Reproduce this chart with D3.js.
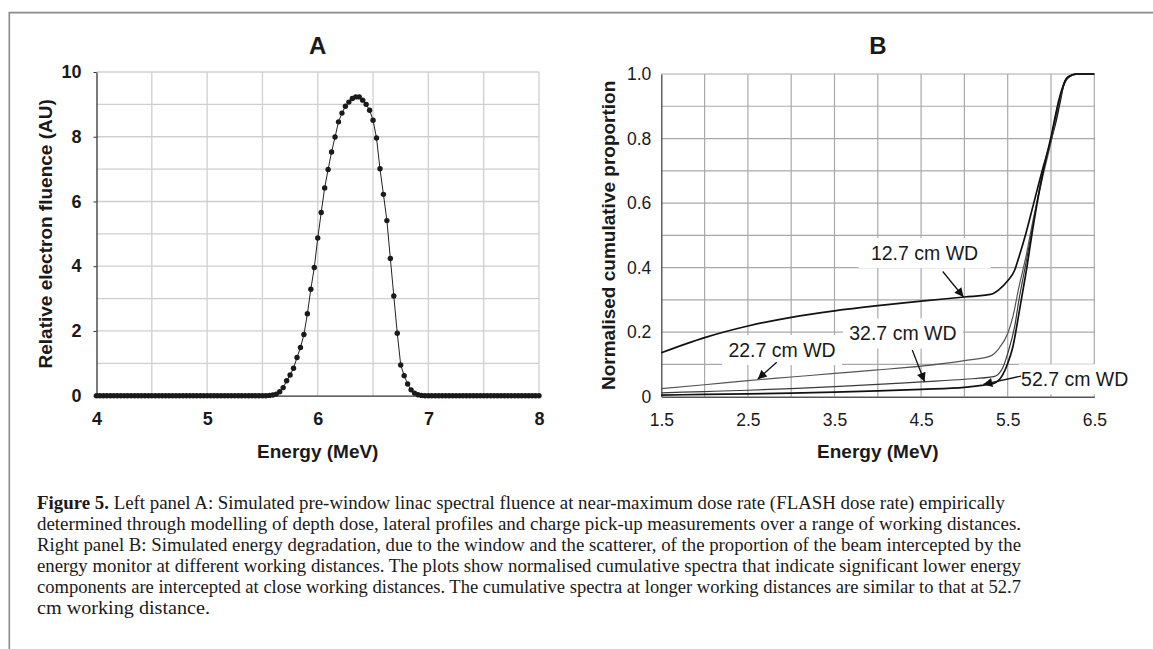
<!DOCTYPE html>
<html>
<head>
<meta charset="utf-8">
<script src="https://cdn.jsdelivr.net/npm/d3@7"></script>
<style>
  body { margin: 0; background: #fff; }
  svg { display: block; }
</style>
</head>
<body>
<svg></svg>
<script>
var w = 1153, h = 649;

// ---- panel A : pre-window spectral fluence ----
var energyA = [
  4, 4.03125, 4.0625, 4.09375, 4.125, 4.15625, 4.1875, 4.21875, 4.25, 4.28125, 4.3125, 4.34375, 4.375, 4.40625, 4.4375, 4.46875,
  4.5, 4.53125, 4.5625, 4.59375, 4.625, 4.65625, 4.6875, 4.71875, 4.75, 4.78125, 4.8125, 4.84375, 4.875, 4.90625, 4.9375, 4.96875,
  5, 5.03125, 5.0625, 5.09375, 5.125, 5.15625, 5.1875, 5.21875, 5.25, 5.28125, 5.3125, 5.34375, 5.375, 5.40625, 5.4375, 5.46875,
  5.5, 5.53125, 5.5625, 5.59375, 5.625, 5.65625, 5.6875, 5.71875, 5.75, 5.78125, 5.8125, 5.84375, 5.875, 5.90625, 5.9375, 5.96875,
  6, 6.03125, 6.0625, 6.09375, 6.125, 6.15625, 6.1875, 6.21875, 6.25, 6.28125, 6.3125, 6.34375, 6.375, 6.40625, 6.4375, 6.46875,
  6.5, 6.53125, 6.5625, 6.59375, 6.625, 6.65625, 6.6875, 6.71875, 6.75, 6.78125, 6.8125, 6.84375, 6.875, 6.90625, 6.9375, 6.96875,
  7, 7.03125, 7.0625, 7.09375, 7.125, 7.15625, 7.1875, 7.21875, 7.25, 7.28125, 7.3125, 7.34375, 7.375, 7.40625, 7.4375, 7.46875,
  7.5, 7.53125, 7.5625, 7.59375, 7.625, 7.65625, 7.6875, 7.71875, 7.75, 7.78125, 7.8125, 7.84375, 7.875, 7.90625, 7.9375, 7.96875,
  8
];
var fluenceA = [
  0, 0, 0, 0, 0, 0, 0, 0, 0, 0, 0, 0, 0, 0, 0, 0,
  0, 0, 0, 0, 0, 0, 0, 0, 0, 0, 0, 0, 0, 0, 0, 0,
  0, 0, 0, 0, 0, 0, 0, 0, 0, 0, 0, 0, 0, 0, 0, 0,
  0, 0, 0.01, 0.02, 0.05, 0.12, 0.25, 0.46, 0.64, 0.85, 1.18, 1.49, 1.89, 2.53, 3.29, 3.96,
  4.87, 5.66, 6.42, 6.99, 7.53, 7.99, 8.46, 8.73, 8.94, 9.07, 9.18, 9.23, 9.23, 9.13, 9.00, 8.82,
  8.51, 7.96, 7.01, 6.22, 5.41, 4.24, 3.08, 1.93, 0.95, 0.62, 0.36, 0.18, 0.08, 0.03, 0.01, 0,
  0, 0, 0, 0, 0, 0, 0, 0, 0, 0, 0, 0, 0, 0, 0, 0,
  0, 0, 0, 0, 0, 0, 0, 0, 0, 0, 0, 0, 0, 0, 0, 0,
  0
];
var xTicksA = [4, 5, 6, 7, 8];
var yTicksA = [0, 2, 4, 6, 8, 10];

// ---- panel B : cumulative spectra at working distances ----
var wdLabels = ["12.7 cm WD", "22.7 cm WD", "32.7 cm WD", "52.7 cm WD"];
var wd127E = [1.5, 2.0, 2.5, 3.0, 3.5, 4.0, 4.5, 5.0, 5.3, 5.4, 5.5, 5.58, 5.63, 5.71, 5.8, 5.9, 6.0, 6.06, 6.1, 6.15, 6.21, 6.3, 6.5];
var wd127P = [0.136, 0.183, 0.219, 0.246, 0.266, 0.282, 0.296, 0.309, 0.317, 0.332, 0.359, 0.392, 0.433, 0.506, 0.599, 0.702, 0.795, 0.857, 0.908, 0.97, 0.993, 1.0, 1.0];
var wd227E = [1.5, 2.0, 2.5, 3.0, 3.5, 4.0, 4.5, 5.0, 5.29, 5.4, 5.5, 5.56, 5.63, 5.71, 5.8, 5.9, 6.0, 6.1, 6.17, 6.25, 6.35, 6.5];
var wd227P = [0.025, 0.037, 0.05, 0.061, 0.072, 0.083, 0.095, 0.112, 0.125, 0.15, 0.196, 0.248, 0.34, 0.433, 0.557, 0.676, 0.789, 0.918, 0.98, 0.996, 1.0, 1.0];
var wd327E = [1.5, 2.0, 2.5, 3.0, 3.5, 4.0, 4.5, 5.0, 5.34, 5.44, 5.5, 5.58, 5.63, 5.71, 5.8, 5.9, 6.0, 6.1, 6.19, 6.3, 6.5];
var wd327P = [0.012, 0.016, 0.02, 0.025, 0.031, 0.038, 0.046, 0.054, 0.062, 0.088, 0.134, 0.217, 0.30, 0.413, 0.547, 0.69, 0.80, 0.924, 0.986, 1.0, 1.0];
var wd527E = [1.5, 2.0, 2.5, 3.0, 3.5, 4.0, 4.5, 5.0, 5.2, 5.34, 5.44, 5.5, 5.56, 5.63, 5.71, 5.8, 5.9, 6.0, 6.1, 6.19, 6.3, 6.5];
var wd527P = [0.005, 0.007, 0.009, 0.011, 0.014, 0.018, 0.023, 0.029, 0.035, 0.041, 0.067, 0.103, 0.155, 0.258, 0.382, 0.537, 0.686, 0.805, 0.929, 0.989, 1.0, 1.0];
var xTicksB = [1.5, 2.5, 3.5, 4.5, 5.5, 6.5];
var yTicksB = [0, 0.2, 0.4, 0.6, 0.8, 1.0];

var captionLines = [
  "determined through modelling of depth dose, lateral profiles and charge pick-up measurements over a range of working distances.",
  "Right panel B: Simulated energy degradation, due to the window and the scatterer, of the proportion of the beam intercepted by the",
  "energy monitor at different working distances. The plots show normalised cumulative spectra that indicate significant lower energy",
  "components are intercepted at close working distances. The cumulative spectra at longer working distances are similar to that at 52.7",
  "cm working distance."
];

var sans = "Arial, 'Liberation Sans', sans-serif";
var serif = "'Liberation Serif', 'Times New Roman', serif";

var svg = d3.select("svg").attr("width", w).attr("height", h);

// figure frame
svg.append("path")
  .attr("d", "M9.3," + h + " L9.3,12.6 L" + w + ",12.6")
  .attr("fill", "none")
  .attr("stroke", "#8a8a8a")
  .attr("stroke-width", 1.6);

svg.append("defs").append("marker")
  .attr("id", "arrowhead")
  .attr("viewBox", "0 -5 10 10")
  .attr("refX", 10)
  .attr("refY", 0)
  .attr("orient", "auto")
  .attr("markerUnits", "userSpaceOnUse")
  .attr("markerWidth", 11)
  .attr("markerHeight", 9)
  .append("path")
  .attr("d", "M0,-5 L10,0 L0,5 Z")
  .attr("fill", "#111");

// ================= panel A =================
var xA = d3.scaleLinear().domain([4, 8]).range([96.5, 539]);
var yA = d3.scaleLinear().domain([0, 10]).range([395.7, 72]);
var gA = svg.append("g");

gA.selectAll(".vgrid").data(d3.range(4.5, 8.01, 0.5)).enter().append("line")
  .attr("x1", d => xA(d)).attr("x2", d => xA(d))
  .attr("y1", yA(0)).attr("y2", yA(10))
  .attr("stroke", "#cfcfcf").attr("stroke-width", 1.3);
gA.selectAll(".hgrid").data(d3.range(1, 10.01, 1)).enter().append("line")
  .attr("x1", xA(4)).attr("x2", xA(8))
  .attr("y1", d => yA(d)).attr("y2", d => yA(d))
  .attr("stroke", "#cfcfcf").attr("stroke-width", 1.3);

var axLA = gA.append("g").attr("transform", "translate(" + xA(4) + ",0)")
  .call(d3.axisLeft(yA).tickValues(yTicksA).tickFormat(d3.format("d"))
    .tickSize(3).tickPadding(12).tickSizeOuter(0));
var axBA = gA.append("g").attr("transform", "translate(0," + yA(0) + ")")
  .call(d3.axisBottom(xA).tickValues(xTicksA).tickFormat(d3.format("d"))
    .tickSize(0).tickPadding(17).tickSizeOuter(0));
[axLA, axBA].forEach(function (ax) {
  ax.select(".domain").attr("stroke", "#333").attr("stroke-width", 1.3);
  ax.selectAll(".tick line").attr("stroke", "#333");
  ax.selectAll("text").attr("font-family", sans).attr("font-size", 18)
    .attr("font-weight", "bold").attr("fill", "#1a1a1a");
});

var ptsA = energyA.map((e, i) => ({ e: e, v: fluenceA[i] }));
gA.append("path").datum(ptsA)
  .attr("d", d3.line().x(d => xA(d.e)).y(d => yA(d.v)))
  .attr("fill", "none").attr("stroke", "#222").attr("stroke-width", 1);
gA.selectAll(".dot").data(ptsA).enter().append("circle")
  .attr("cx", d => xA(d.e)).attr("cy", d => yA(d.v)).attr("r", 2.7)
  .attr("fill", "#1a1a1a");

gA.append("text").attr("x", (xA(4) + xA(8)) / 2).attr("y", 54)
  .attr("text-anchor", "middle").attr("font-family", sans)
  .attr("font-size", 24).attr("font-weight", "bold").attr("fill", "#1a1a1a").text("A");
gA.append("text").attr("x", (xA(4) + xA(8)) / 2).attr("y", 457.5)
  .attr("text-anchor", "middle").attr("font-family", sans)
  .attr("font-size", 19).attr("font-weight", "bold").attr("fill", "#1a1a1a").text("Energy (MeV)");
gA.append("text").attr("transform", "translate(52," + (yA(0) + yA(10)) / 2 + ") rotate(-90)")
  .attr("text-anchor", "middle").attr("font-family", sans)
  .attr("font-size", 19).attr("font-weight", "bold").attr("fill", "#1a1a1a")
  .text("Relative electron fluence (AU)");

// ================= panel B =================
var xB = d3.scaleLinear().domain([1.5, 6.5]).range([661.3, 1094.3]);
var yB = d3.scaleLinear().domain([0, 1]).range([396.7, 74]);
var gB = svg.append("g");

gB.selectAll(".vgrid").data(d3.range(2, 6.51, 0.5)).enter().append("line")
  .attr("x1", d => xB(d)).attr("x2", d => xB(d))
  .attr("y1", yB(0)).attr("y2", yB(1))
  .attr("stroke", "#a9a9a9").attr("stroke-width", 1.2);
gB.selectAll(".hgrid").data(d3.range(1, 11, 1)).enter().append("line")
  .attr("x1", xB(1.5)).attr("x2", xB(6.5))
  .attr("y1", d => yB(d / 10)).attr("y2", d => yB(d / 10))
  .attr("stroke", "#a9a9a9").attr("stroke-width", 1.2);

var axLB = gB.append("g").attr("transform", "translate(" + xB(1.5) + ",0)")
  .call(d3.axisLeft(yB).tickValues(yTicksB).tickFormat(d => d === 0 ? "0" : d3.format(".1f")(d))
    .tickSize(0).tickPadding(10).tickSizeOuter(0));
var axBB = gB.append("g").attr("transform", "translate(0," + yB(0) + ")")
  .call(d3.axisBottom(xB).tickValues(xTicksB).tickFormat(d3.format(".1f"))
    .tickSize(0).tickPadding(17).tickSizeOuter(0));
[axLB, axBB].forEach(function (ax) {
  ax.select(".domain").attr("stroke", "#555").attr("stroke-width", 1.4);
  ax.selectAll("text").attr("font-family", sans).attr("font-size", 17.5).attr("fill", "#1a1a1a");
});

// annotation boxes, arrows and labels (label centre, arrow start, arrow tip in data units)
var notes = [
  { i: 0, lx: 4.54, ly: 0.445, bw: 132, ax: 4.75, ay: 0.388, tx: 4.99, ty: 0.309 },
  { i: 1, lx: 2.894, ly: 0.1446, bw: 120, ax: 2.833, ay: 0.107, tx: 2.613, ty: 0.054 },
  { i: 2, lx: 4.29, ly: 0.196, bw: 120, ax: 4.398, ay: 0.145, tx: 4.54, ty: 0.046 },
  { i: 3, lx: 6.274, ly: 0.054, bw: 112, ax: 5.654, ay: 0.064, tx: 5.218, ty: 0.038 }
];
gB.selectAll(".nbox").data(notes).enter().append("rect")
  .attr("x", d => xB(d.lx) - d.bw / 2).attr("y", d => yB(d.ly) - 15)
  .attr("width", d => d.bw).attr("height", 30).attr("fill", "#fff");

var series = [
  { e: wd127E, p: wd127P, c: "#111", sw: 1.7 },
  { e: wd227E, p: wd227P, c: "#555", sw: 1.2 },
  { e: wd327E, p: wd327P, c: "#3a3a3a", sw: 1.2 },
  { e: wd527E, p: wd527P, c: "#111", sw: 1.7 }
];
var lineB = d3.line().x(d => xB(d[0])).y(d => yB(d[1])).curve(d3.curveMonotoneX);
gB.selectAll(".wd").data(series).enter().append("path")
  .attr("d", s => lineB(s.e.map((e, i) => [e, s.p[i]])))
  .attr("fill", "none").attr("stroke", s => s.c).attr("stroke-width", s => s.sw);

gB.selectAll(".arrow").data(notes).enter().append("line")
  .attr("x1", d => xB(d.ax)).attr("y1", d => yB(d.ay))
  .attr("x2", d => xB(d.tx)).attr("y2", d => yB(d.ty))
  .attr("stroke", "#111").attr("stroke-width", 1.3)
  .attr("marker-end", "url(#arrowhead)");
gB.selectAll(".nlabel").data(notes).enter().append("text")
  .attr("x", d => xB(d.lx)).attr("y", d => yB(d.ly))
  .attr("dy", "0.36em").attr("text-anchor", "middle")
  .attr("font-family", sans).attr("font-size", 19.5).attr("fill", "#1a1a1a")
  .text(d => wdLabels[d.i]);

gB.append("text").attr("x", (xB(1.5) + xB(6.5)) / 2).attr("y", 54)
  .attr("text-anchor", "middle").attr("font-family", sans)
  .attr("font-size", 24).attr("font-weight", "bold").attr("fill", "#1a1a1a").text("B");
gB.append("text").attr("x", (xB(1.5) + xB(6.5)) / 2).attr("y", 457.5)
  .attr("text-anchor", "middle").attr("font-family", sans)
  .attr("font-size", 19).attr("font-weight", "bold").attr("fill", "#1a1a1a").text("Energy (MeV)");
gB.append("text").attr("transform", "translate(615," + (yB(0) + yB(1)) / 2 + ") rotate(-90)")
  .attr("text-anchor", "middle").attr("font-family", sans)
  .attr("font-size", 19).attr("font-weight", "bold").attr("fill", "#1a1a1a")
  .text("Normalised cumulative proportion");

// ================= caption =================
var cap = svg.append("g").attr("font-family", serif).attr("font-size", 19.5).attr("fill", "#1a1a1a");
var first = cap.append("text").attr("x", 37).attr("y", 509)
  .attr("textLength", 968).attr("lengthAdjust", "spacingAndGlyphs");
first.append("tspan").attr("font-weight", "bold").text("Figure 5.");
first.append("tspan").text(" Left panel A: Simulated pre-window linac spectral fluence at near-maximum dose rate (FLASH dose rate) empirically");
var capW = [984, 984, 984, 984, 173];
cap.selectAll(".cl").data(captionLines).enter().append("text")
  .attr("x", 37).attr("y", (d, i) => 530 + i * 21)
  .attr("textLength", (d, i) => capW[i]).attr("lengthAdjust", "spacingAndGlyphs")
  .text(d => d);
</script>
</body>
</html>
